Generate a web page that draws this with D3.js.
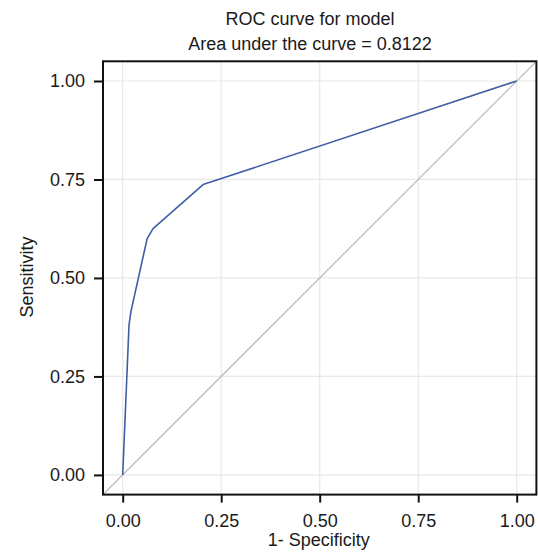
<!DOCTYPE html>
<html>
<head>
<meta charset="utf-8">
<script src="https://cdn.jsdelivr.net/npm/d3@7"></script>
<style>
  body { margin: 0; background: #fff; }
  text { font-family: "Liberation Sans", Arial, sans-serif; fill: #1a1a1a; }
</style>
</head>
<body>
<div id="roc"></div>
<script>
let width = 538,
    height = 553

// panel limits (ggplot style, 5% expansion)
let pLeft = 103, pRight = 536.4, pTop = 61.3, pBottom = 494.6

// data
let fpr = [0, 0.016, 0.021, 0.062, 0.077, 0.204, 1]
let tpr = [0, 0.38, 0.415, 0.60, 0.625, 0.737, 1]
let ticks = [0, 0.25, 0.5, 0.75, 1]
let titleLines = ["ROC curve for model", "Area under the curve = 0.8122"]

let svg = d3.select("#roc")
  .append("svg")
    .attr("width", width)
    .attr("height", height)

let x = d3.scaleLinear().domain([-0.05, 1.05]).range([pLeft, pRight])
let y = d3.scaleLinear().domain([-0.05, 1.05]).range([pBottom, pTop])

svg.append("defs").append("clipPath").attr("id", "clip")
  .append("rect")
    .attr("x", pLeft).attr("y", pTop)
    .attr("width", pRight - pLeft).attr("height", pBottom - pTop)

// grid
let grid = svg.append("g")
grid.selectAll(".gx").data(ticks).enter().append("line")
  .attr("x1", d => x(d)).attr("x2", d => x(d))
  .attr("y1", pTop).attr("y2", pBottom)
  .attr("stroke", "#e8e8e8").attr("stroke-width", 1.2)
grid.selectAll(".gy").data(ticks).enter().append("line")
  .attr("y1", d => y(d)).attr("y2", d => y(d))
  .attr("x1", pLeft).attr("x2", pRight)
  .attr("stroke", "#e8e8e8").attr("stroke-width", 1.2)

let plot = svg.append("g").attr("clip-path", "url(#clip)")

// reference diagonal
plot.append("line")
  .attr("x1", x(-0.05)).attr("y1", y(-0.05))
  .attr("x2", x(1.05)).attr("y2", y(1.05))
  .attr("stroke", "#b4b4b4").attr("stroke-width", 1.1)

let line = d3.line()
  .x(d => x(d[0]))
  .y(d => y(d[1]))

plot.append("path")
  .datum(d3.zip(fpr, tpr))
  .attr("d", line)
  .attr("fill", "none")
  .attr("stroke", "#3d5ea6")
  .attr("stroke-width", 1.6)
  .attr("stroke-linejoin", "round")

// panel border
svg.append("rect")
  .attr("x", pLeft).attr("y", pTop)
  .attr("width", pRight - pLeft).attr("height", pBottom - pTop)
  .attr("fill", "none").attr("stroke", "#111").attr("stroke-width", 2)

let fmt = d3.format(".2f")

let xAxis = svg.append("g")
  .attr("transform", `translate(0,${pBottom})`)
  .call(d3.axisBottom(x).tickValues(ticks).tickFormat(fmt).tickSize(8).tickPadding(12))
let yAxis = svg.append("g")
  .attr("transform", `translate(${pLeft},0)`)
  .call(d3.axisLeft(y).tickValues(ticks).tickFormat(fmt).tickSize(9).tickPadding(9))

for (let a of [xAxis, yAxis]) {
  a.select(".domain").remove()
  a.selectAll(".tick line").attr("stroke", "#111").attr("stroke-width", 2)
  a.selectAll(".tick text")
    .style("font-size", "18px")
    .style("font-family", "Liberation Sans, Arial, sans-serif")
    .attr("fill", "#333")
}

// titles
svg.selectAll(".title").data(titleLines).enter().append("text")
  .attr("x", 310)
  .attr("y", (d, i) => 25 + i * 25)
  .attr("text-anchor", "middle")
  .style("font-size", "18px")
  .text(d => d)

svg.append("text")
  .attr("x", (pLeft + pRight) / 2 - 1)
  .attr("y", 546)
  .attr("text-anchor", "middle")
  .style("font-size", "18px")
  .text("1- Specificity")

svg.append("text")
  .attr("transform", `translate(33,277) rotate(-90)`)
  .attr("text-anchor", "middle")
  .style("font-size", "18px")
  .text("Sensitivity")
</script>
</body>
</html>
